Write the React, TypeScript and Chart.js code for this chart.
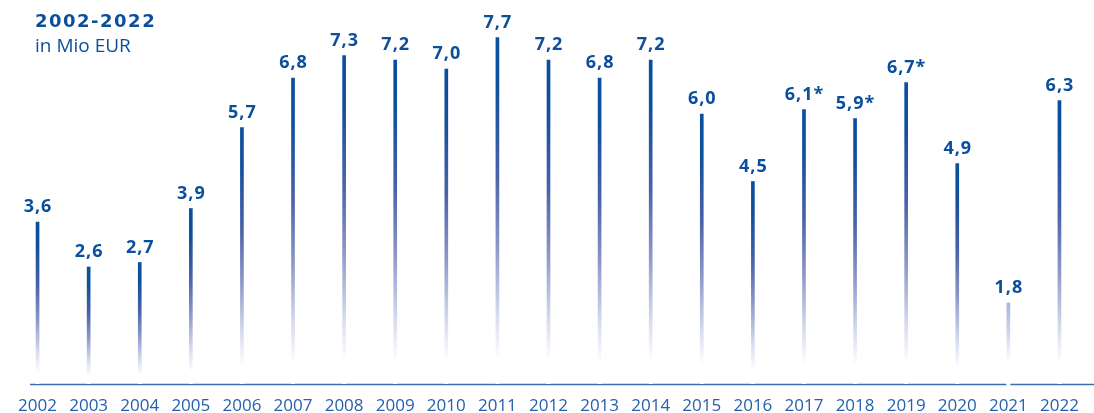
import React, { useEffect, useRef } from 'react';
import { Chart, registerables } from 'chart.js';

Chart.register(...registerables);

const years = ['2002', '2003', '2004', '2005', '2006', '2007', '2008', '2009', '2010', '2011', '2012', '2013', '2014', '2015', '2016', '2017', '2018', '2019', '2020', '2021', '2022'];
const values = [3.6, 2.6, 2.7, 3.9, 5.7, 6.8, 7.3, 7.2, 7.0, 7.7, 7.2, 6.8, 7.2, 6.0, 4.5, 6.1, 5.9, 6.7, 4.9, 1.8, 6.3];
const starredYears = ['2017', '2018', '2019'];
const paleYears = ['2021'];
const gapYear = '2021';

const DARK = '#0b4f9c';
const TICK = '#2660aa';
const AXIS = '#3a6cb2';

function formatValue(i: number): string {
  return values[i].toFixed(1).replace('.', ',') + (starredYears.includes(years[i]) ? '*' : '');
}

export default function App() {
  const ref = useRef<HTMLCanvasElement>(null);

  useEffect(() => {
    document.body.style.margin = '0';
    const canvas = ref.current;
    if (!canvas) return;

    const barFill = (c: any) => {
      const chart = c.chart;
      if (!chart.chartArea || c.dataIndex === undefined) return DARK;
      const yScale = chart.scales.y;
      const top = yScale.getPixelForValue(c.raw as number);
      const base = yScale.getPixelForValue(0);
      const g = chart.ctx.createLinearGradient(0, top, 0, base);
      if (paleYears.includes(years[c.dataIndex])) {
        g.addColorStop(0, '#aab4db');
        g.addColorStop(0.35, '#cdd3eb');
        g.addColorStop(0.6, '#eef0f8');
        g.addColorStop(0.75, '#ffffff');
        g.addColorStop(1, '#ffffff');
      } else {
        g.addColorStop(0, '#0a4f9d');
        g.addColorStop(0.15, '#0f4f9c');
        g.addColorStop(0.4, '#4b63a9');
        g.addColorStop(0.6, '#8c97c8');
        g.addColorStop(0.8, '#d6dbee');
        g.addColorStop(0.93, '#ffffff');
        g.addColorStop(1, '#ffffff');
      }
      return g;
    };

    const axisLinePlugin = {
      id: 'axisLine',
      beforeDatasetsDraw(chart: any) {
        const { ctx } = chart;
        const y = chart.scales.y.getPixelForValue(0) + 0.5;
        const gx = chart.scales.x.getPixelForValue(years.indexOf(gapYear));
        ctx.save();
        ctx.strokeStyle = AXIS;
        ctx.lineWidth = 1.5;
        ctx.beginPath();
        ctx.moveTo(chart.chartArea.left + 18, y);
        ctx.lineTo(gx - 2, y);
        ctx.moveTo(gx + 2, y);
        ctx.lineTo(chart.width, y);
        ctx.stroke();
        ctx.restore();
      },
    };

    const valueLabelPlugin = {
      id: 'valueLabels',
      afterDatasetsDraw(chart: any) {
        const { ctx } = chart;
        const meta = chart.getDatasetMeta(0);
        ctx.save();
        ctx.font = '700 18px "Open Sans"';
        ctx.fillStyle = DARK;
        ctx.textAlign = 'center';
        ctx.textBaseline = 'alphabetic';
        try { (ctx as any).letterSpacing = '1px'; } catch (e) { /* ignore */ }
        meta.data.forEach((el: any, i: number) => {
          ctx.fillText(formatValue(i), el.x + 0.5, el.y - 10);
        });
        ctx.restore();
      },
    };

    const chart = new Chart(canvas, {
      type: 'bar',
      data: {
        labels: years,
        datasets: [
          {
            data: values,
            backgroundColor: barFill,
            borderWidth: 0,
            barThickness: 3,
          },
        ],
      },
      options: {
        responsive: false,
        animation: false,
        layout: { padding: { left: 12, right: 9, top: 6, bottom: 0 } },
        plugins: {
          legend: { display: false },
          tooltip: { enabled: false },
        },
        scales: {
          x: {
            grid: { display: false, drawTicks: false },
            border: { display: false },
            ticks: {
              color: TICK,
              font: { family: '"Open Sans"', size: 17 },
              padding: 12,
              maxRotation: 0,
              autoSkip: false,
            },
            afterFit: (s: any) => {
              s.height = 29;
            },
          },
          y: { display: false, min: 0, max: 8.4 },
        },
      },
      plugins: [axisLinePlugin, valueLabelPlugin],
    });

    return () => chart.destroy();
  }, []);

  return (
    <div style={{ position: 'relative', width: 1094, height: 413, background: '#fff' }}>
      <canvas ref={ref} width={1094} height={413} style={{ display: 'block', width: 1094, height: 413 }} />
      <div
        style={{
          position: 'absolute',
          left: 35,
          top: 12,
          font: '700 18px "DejaVu Sans"',
          lineHeight: '18px',
          letterSpacing: '1.5px',
          color: DARK,
          whiteSpace: 'nowrap',
        }}
      >
        2002-2022
      </div>
      <div
        style={{
          position: 'absolute',
          left: 35,
          top: 36,
          font: '500 19px "Open Sans"',
          lineHeight: '19px',
          color: DARK,
          whiteSpace: 'nowrap',
        }}
      >
        in Mio EUR
      </div>
    </div>
  );
}
